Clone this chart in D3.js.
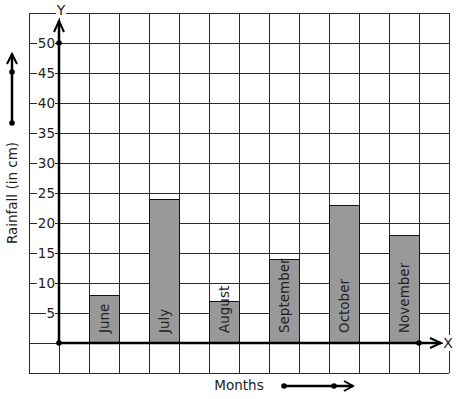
<!DOCTYPE html>
<html><head><meta charset="utf-8">
<script src="https://cdn.jsdelivr.net/npm/d3@7"></script>
<style>body{margin:0;background:#fff}svg{display:block}text{font-family:"DejaVu Sans",sans-serif;fill:#222}</style>
</head><body>
<script>
const months = ["June","July","August","September","October","November"];
const rainfall = [8,24,7,14,23,18];
const yTicks = [5,10,15,20,25,30,35,40,45,50];
const xTitle = "Months", yTitle = "Rainfall (in cm)";

const W=457,H=399;
const svg=d3.select("body").append("svg").attr("width",W).attr("height",H);
const y=d3.scaleLinear().domain([-5,55]).range([373,13]);
const gx=d3.scaleLinear().domain([-1,13]).range([29,449]);
const x=d3.scaleBand().domain(months).range([gx(1),gx(12)]).paddingInner(0.5).paddingOuter(0);
const x0=gx(0), y0=y(0);

// grid
const g=svg.append("g").attr("stroke","#2a2a2a").attr("stroke-width",1.2).attr("shape-rendering","crispEdges");
g.selectAll(".h").data(d3.range(-5,56,5)).join("line")
  .attr("x1",gx(-1)).attr("x2",gx(13)).attr("y1",d=>Math.round(y(d))+0.5).attr("y2",d=>Math.round(y(d))+0.5);
g.selectAll(".v").data(d3.range(-1,14)).join("line")
  .attr("y1",y(55)).attr("y2",y(-5)).attr("x1",d=>Math.round(gx(d))+0.5).attr("x2",d=>Math.round(gx(d))+0.5);

// bars
svg.selectAll(".bar").data(months).join("rect")
  .attr("x",d=>x(d)+0.5).attr("width",x.bandwidth())
  .attr("y",(d,i)=>y(rainfall[i])+0.5).attr("height",(d,i)=>y0-y(rainfall[i]))
  .attr("fill","#999").attr("stroke","#111").attr("stroke-width",1);

// bar labels
svg.selectAll(".bl").data(months).join("text")
  .attr("transform",d=>`translate(${x(d)+x.bandwidth()/2+5},${y0-10}) rotate(-90)`)
  .attr("font-size",13.5).attr("fill","#333").text(d=>d);

// y tick labels with white background
const tl=svg.selectAll(".tl").data(yTicks).join("g").attr("transform",d=>`translate(55,${y(d)})`);
tl.append("rect").attr("x",d=>d>=10?-18:-9).attr("y",-6).attr("width",d=>d>=10?18:9).attr("height",12).attr("fill","#fff");
tl.append("text").attr("text-anchor","end").attr("dy","0.36em").attr("font-size",13.5).attr("fill","#333").text(d=>d);

// axes
const ax=svg.append("g").attr("stroke","#000").attr("fill","none").attr("stroke-width",2.5);
ax.append("line").attr("x1",x0).attr("x2",x0).attr("y1",y0).attr("y2",21);
ax.append("polyline").attr("points",`${x0-5},32 ${x0},21 ${x0+5},32`).attr("stroke-width",2);
ax.append("line").attr("x1",x0).attr("x2",441).attr("y1",y0).attr("y2",y0);
ax.append("polyline").attr("points",`430,${y0-5} 441,${y0} 430,${y0+5}`).attr("stroke-width",2);
svg.selectAll(".dot").data([[x0,y(50)],[x0,y0],[gx(12),y0]]).join("circle")
  .attr("cx",d=>d[0]).attr("cy",d=>d[1]).attr("r",2.8).attr("fill","#000");

// axis letters with gaps
svg.append("rect").attr("x",56).attr("y",8).attr("width",10).attr("height",10).attr("fill","#fff");
svg.append("text").attr("x",61).attr("y",15).attr("text-anchor","middle").attr("font-size",14).attr("fill","#333").text("Y");
svg.append("rect").attr("x",443).attr("y",335).attr("width",10).attr("height",16).attr("fill","#fff");
svg.append("text").attr("x",448).attr("y",y0).attr("dy","0.36em").attr("text-anchor","middle").attr("font-size",14).attr("fill","#333").text("X");

// titles
svg.append("text").attr("transform",`translate(17,193) rotate(-90)`).attr("text-anchor","middle").attr("font-size",13.5).text(yTitle);
svg.append("text").attr("x",239).attr("y",390).attr("text-anchor","middle").attr("font-size",13.5).text(xTitle);

// decorative arrows
const da=svg.append("g").attr("stroke","#000").attr("fill","none").attr("stroke-width",2.5);
da.append("line").attr("x1",12).attr("x2",12).attr("y1",123).attr("y2",54);
da.append("polyline").attr("points","7,64 12,54 17,64").attr("stroke-width",2);
da.append("line").attr("x1",284).attr("x2",353).attr("y1",386).attr("y2",386);
da.append("polyline").attr("points","344,381 353,386 344,391").attr("stroke-width",2);
svg.selectAll(".dd").data([[12,123],[12,72],[284,386],[334,386]]).join("circle")
  .attr("cx",d=>d[0]).attr("cy",d=>d[1]).attr("r",2.8).attr("fill","#000");
</script>
</body></html>
